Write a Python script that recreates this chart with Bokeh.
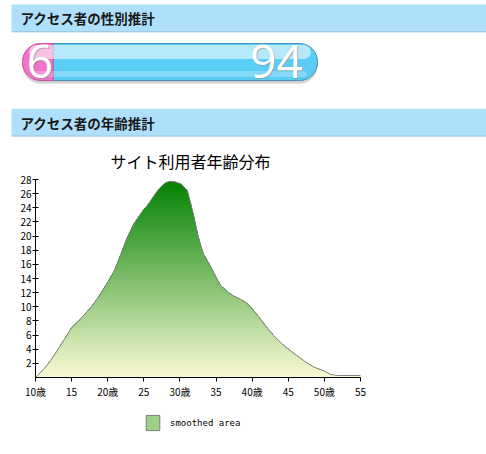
import numpy as np
from bokeh.plotting import figure
from bokeh.layouts import column
from bokeh.models import Range1d, FixedTicker, Legend, LegendItem
from bokeh.core.properties import value
from bokeh.embed import file_html
from bokeh.resources import INLINE

# ---------------- data ----------------
section_titles = ["アクセス者の性別推計", "アクセス者の年齢推計"]
gender_values = [6, 94]          # female %, male %
chart_title = "サイト利用者年齢分布"
ages = [10, 10.3, 11.2, 12.1, 13.0, 14.0, 14.9, 15.8, 16.7, 17.7, 18.6, 19.9,
        20.9, 21.8, 22.7, 23.6, 24.8, 25.7, 26.6, 27.3, 28.0, 28.6, 29.2, 30.1,
        31.0, 31.5, 32.0, 32.4, 32.9, 33.3, 33.8, 34.3, 35.0, 35.6, 36.6, 37.5,
        38.4, 39.1, 40.1, 41.2, 42.1, 43.0, 44.2, 45.1, 46.2, 47.4, 48.5, 50.0,
        50.8, 51.7, 55]
share = [0, 0.3, 1.25, 2.4, 3.8, 5.4, 6.9, 7.8, 8.8, 9.95, 11.2, 13.3,
         15.1, 17.4, 19.8, 21.7, 23.5, 24.6, 26.0, 26.9, 27.55, 27.75, 27.7, 27.4,
         26.5, 24.6, 22.5, 20.5, 18.6, 17.4, 16.5, 15.6, 14.2, 13.05, 12.1, 11.5,
         11.05, 10.65, 9.6, 8.2, 7.0, 5.9, 4.7, 3.95, 3.1, 2.2, 1.5, 0.9,
         0.45, 0.28, 0.28]
x_ticks = [10, 15, 20, 25, 30, 35, 40, 45, 50, 55]
x_tick_labels = ["10歳", "15", "20歳", "25", "30歳", "35", "40歳", "45", "50歳", "55"]
y_ticks = [2, 4, 6, 8, 10, 12, 14, 16, 18, 20, 22, 24, 26, 28]
legend_label = "smoothed area"

# ---------------- styles ----------------
W = 486
JP = value("Noto Sans CJK JP")
HEADER_FILL = "#aee0fc"
HEADER_LINE = "#9ec6d8"
TOP_H, CH_H, LEG_H = 140, 261, 53

# ---------------- top panel ----------------
top = figure(width=W, height=TOP_H, x_range=Range1d(0, W), y_range=Range1d(TOP_H, 0),
             output_backend="svg", toolbar_location=None, min_border=0,
             x_axis_location=None, y_axis_location=None, outline_line_color=None)
top.frame_align = False
top.grid.visible = False

hdr_top = [4, 108.3]
hdr_bot = [31.7, 136]
top.quad(left=11, right=W, top=hdr_top, bottom=hdr_bot, fill_color=HEADER_FILL, line_color=None)
top.segment(x0=11, x1=W, y0=[b - 0.5 for b in hdr_bot], y1=[b - 0.5 for b in hdr_bot],
            line_color=HEADER_LINE, line_width=1)
top.text(x=[20, 20], y=[17.8, 122], text=section_titles, text_font=JP,
         text_font_style="bold", text_font_size="13.5px", text_baseline="middle",
         text_color="#1a1a1a")

# gender pill uses its own percentage range
pad = 5.5
pill_l, pill_r = 22, 317
k = (100 + 2 * pad) / (pill_r - pill_l)
pstart = -pad - pill_l * k
top.extra_x_ranges = {"pct": Range1d(pstart, pstart + W * k)}
female, male = gender_values
total = female + male
yc, hh = 61.5, 37

top.hbar(y=yc + 3, left=-pad, right=total + pad, height=hh, x_range_name="pct",
         fill_color="#000000", fill_alpha=0.18, line_color=None, border_radius=18)
top.hbar(y=yc, left=female, right=total + pad, height=hh, x_range_name="pct",
         fill_color="#5acdf4", line_color="#4a8fb5", line_width=1,
         border_radius=(0, 18, 18, 0))
top.hbar(y=yc, left=-pad, right=female, height=hh, x_range_name="pct",
         fill_color="#f273c8", line_color="#c9509f", line_width=1,
         border_radius=(18, 0, 0, 18))
top.hbar(y=yc - 10, left=-pad + 2.5, right=total + pad - 2.5, height=14, x_range_name="pct",
         fill_color="#ffffff", fill_alpha=0.55, line_color=None, border_radius=7)
top.hbar(y=yc + 12, left=-pad + 4, right=total + pad - 4, height=6, x_range_name="pct",
         fill_color="#ffffff", fill_alpha=0.25, line_color=None, border_radius=3)

num_x = [female, total]
num_txt = [str(female), str(male)]
num_y = yc - 1
top.text(x=num_x, y=num_y, text=num_txt, x_range_name="pct", x_offset=1, y_offset=1,
         text_font=value("Open Sans"), text_font_size="46px", text_align="right",
         text_baseline="alphabetic", text_color="#8a8a8a", text_alpha=0.6)
top.text(x=num_x, y=num_y, text=num_txt, x_range_name="pct",
         text_font=value("Open Sans"), text_font_size="46px", text_align="right",
         text_baseline="alphabetic", text_color="#ffffff")

# ---------------- age chart ----------------
ch = figure(width=W, height=CH_H, x_range=Range1d(10, 55), y_range=Range1d(0, 28),
            output_backend="svg", toolbar_location=None, title=chart_title,
            min_border_left=35, min_border_right=126, min_border_top=39,
            min_border_bottom=20, outline_line_color=None)
ch.frame_align = False
ch.title.text_font = "Noto Sans CJK JP"
ch.title.text_font_size = "16px"
ch.title.text_font_style = "normal"
ch.title.text_color = "black"
ch.title.align = "left"
ch.title.offset = 75
ch.title.standoff = 13
ch.grid.visible = False

x = np.array(ages, dtype=float)
y = np.array(share, dtype=float)
top_c = np.array([0, 128, 0])
bot_c = np.array([250, 250, 212])
N = 56
step = 28 / N
for i in reversed(range(N)):
    hi = (i + 1) * step
    t = (i + 0.5) / N
    c = bot_c + (top_c - bot_c) * t
    col = "#%02x%02x%02x" % tuple(int(round(v)) for v in c)
    ch.varea(x=x, y1=0, y2=np.minimum(y, hi), fill_color=col)
ch.line(x, y, line_color="#808080", line_width=1)

for ax in (ch.xaxis, ch.yaxis):
    ax.axis_line_color = "black"
    ax.major_tick_line_color = "black"
    ax.minor_tick_line_color = None
    ax.major_label_text_font = "Noto Sans CJK JP"
    ax.major_label_text_font_size = "10px"
    ax.major_label_text_color = "black"
ch.xaxis.ticker = FixedTicker(ticks=x_ticks)
ch.xaxis.major_label_overrides = {t: s for t, s in zip(x_ticks, x_tick_labels)}
ch.xaxis.major_tick_in = 0
ch.xaxis.major_tick_out = 4
ch.xaxis.major_label_standoff = 2
ch.yaxis.ticker = FixedTicker(ticks=y_ticks)
ch.yaxis.major_tick_in = 3
ch.yaxis.major_tick_out = 3
ch.yaxis.major_label_standoff = 1

# ---------------- legend strip ----------------
lg = figure(width=W, height=LEG_H, x_range=Range1d(0, 1), y_range=Range1d(0, 1),
            output_backend="svg", toolbar_location=None, min_border=0,
            x_axis_location=None, y_axis_location=None, outline_line_color=None)
lg.frame_align = False
lg.grid.visible = False
# swatch glyph kept outside the visible range; only its legend icon shows
swatch = lg.quad(left=[5], right=[6], top=[6], bottom=[5], fill_color="#9ccf88",
                 line_color="#7f7f7f", line_width=1)
legend = Legend(items=[LegendItem(label=legend_label, renderers=[swatch])],
                location=(144, 22), padding=0, margin=0, border_line_alpha=0,
                background_fill_alpha=0, glyph_width=17, glyph_height=19,
                label_standoff=9, label_text_font="DejaVu Sans Mono",
                label_text_font_size="9px", label_text_color="black")
lg.add_layout(legend)

layout = column(top, ch, lg, spacing=0)
open("out.html", "w").write(file_html(layout, INLINE))
